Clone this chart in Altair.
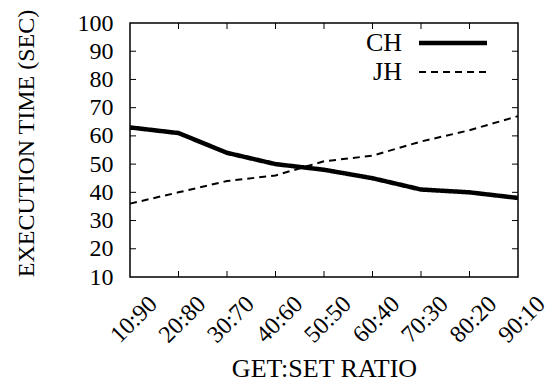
import altair as alt
import pandas as pd

# Execution time for two hashing schemes across GET:SET ratios
ratios = ["10:90", "20:80", "30:70", "40:60", "50:50", "60:40", "70:30", "80:20", "90:10"]
ch_time = [63, 61, 54, 50, 48, 45, 41, 40, 38]
jh_time = [36, 40, 44, 46, 51, 53, 58, 62, 67]
series = ["CH", "JH"]
y_ticks = [10, 20, 30, 40, 50, 60, 70, 80, 90, 100]

FONT = "Liberation Serif"
FS = 24
W, H = 388, 254

df = pd.DataFrame(
    [{"ratio": r, "time": v, "system": "CH"} for r, v in zip(ratios, ch_time)]
    + [{"ratio": r, "time": v, "system": "JH"} for r, v in zip(ratios, jh_time)]
)

x_scale = alt.Scale(type="point", domain=ratios, padding=0)
y_scale = alt.Scale(domain=[10, 100], nice=False)

x_axis = alt.Axis(
    title="GET:SET RATIO", domain=False, ticks=False, tickSize=0, grid=False,
    labelAngle=-45, labelAlign="right", labelBaseline="middle",
    labelOffset=23, labelPadding=23, labelOverlap=False, labelFlush=False,
    titleX=W / 2, titleY=91, titleBaseline="middle", titleFontSize=26,
)
y_axis = alt.Axis(
    title="EXECUTION TIME (SEC)", values=y_ticks, domain=False, ticks=False,
    tickSize=0, grid=False, labelPadding=17, labelOverlap=False, labelFlush=False,
    titleX=-104, titleY=120, titleBaseline="middle", titleAngle=-90,
)
x_enc = alt.X("ratio:N", scale=x_scale, sort=ratios, axis=x_axis)
y_enc = alt.Y("time:Q", scale=y_scale, axis=y_axis)

lines = alt.Chart(df).mark_line(color="black").encode(
    x=x_enc,
    y=y_enc,
    strokeWidth=alt.StrokeWidth("system:N", scale=alt.Scale(domain=series, range=[4.5, 2]), legend=None),
    strokeDash=alt.StrokeDash("system:N", scale=alt.Scale(domain=series, range=[[1, 0], [7, 5]]), legend=None),
    detail="system:N",
)

# Inward-pointing tick marks on all four sides of the frame
inner_y = pd.DataFrame({"time": y_ticks[1:-1]})
inner_x = pd.DataFrame({"ratio": ratios[1:-1]})
tick_style = dict(color="black", strokeWidth=1)
ticks_left = alt.Chart(inner_y).mark_rule(**tick_style).encode(
    y=y_enc, x=alt.value(0), x2=alt.value(6))
ticks_right = alt.Chart(inner_y).mark_rule(**tick_style).encode(
    y=y_enc, x=alt.value(W - 6), x2=alt.value(W))
ticks_bottom = alt.Chart(inner_x).mark_rule(**tick_style).encode(
    x=x_enc, y=alt.value(H - 6), y2=alt.value(H))
ticks_top = alt.Chart(inner_x).mark_rule(**tick_style).encode(
    x=x_enc, y=alt.value(0), y2=alt.value(6))

# Key in the upper right: label to the left of its line sample
key_layers = []
for i, name in enumerate(series):
    ky = 20 + 29 * i
    kdf = pd.DataFrame({"system": [name]})
    key_layers.append(
        alt.Chart(kdf).mark_text(align="right", baseline="middle", font=FONT, fontSize=26, color="black")
        .encode(text="system:N", x=alt.value(272), y=alt.value(ky))
    )
    key_layers.append(
        alt.Chart(kdf).mark_rule(color="black",
                                 strokeWidth=4.5 if i == 0 else 2,
                                 strokeDash=[1, 0] if i == 0 else [7, 5])
        .encode(x=alt.value(289), x2=alt.value(357), y=alt.value(ky))
    )

chart = alt.layer(lines, ticks_left, ticks_right, ticks_bottom, ticks_top, *key_layers).properties(
    width=W, height=H,
    padding={"left": 130, "top": 23, "right": 553 - 130 - W, "bottom": 384 - 23 - H},
    autosize=alt.AutoSizeParams(type="none"),
).configure(
    background="white"
).configure_view(
    stroke="black", strokeWidth=1.5
).configure_axis(
    labelFont=FONT, titleFont=FONT, labelFontSize=FS, titleFontSize=FS,
    labelColor="black", titleColor="black", titleFontWeight="normal",
)

chart.save("out.html", embed_options={"renderer": "svg", "actions": False})
